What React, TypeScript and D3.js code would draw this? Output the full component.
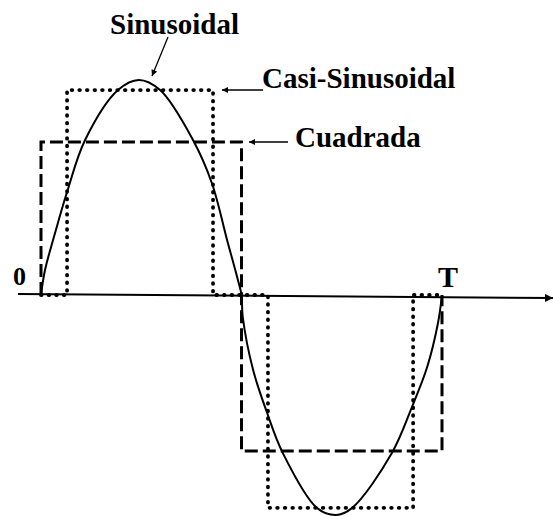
import React from "react";
import * as d3 from "d3";

// Sinusoidal wave samples (t as fraction of period T, v as relative amplitude)
const sineT = [0, 0.01, 0.035, 0.065, 0.11, 0.192, 0.244, 0.297, 0.379, 0.426, 0.464, 0.491, 0.5, 0.503, 0.529, 0.564, 0.603, 0.688, 0.736, 0.776, 0.875, 0.925, 0.963, 0.99, 1];
const sineV = [0, 0.116, 0.288, 0.479, 0.721, 0.953, 1.0, 0.953, 0.721, 0.521, 0.256, 0.07, 0, -0.1, -0.349, -0.549, -0.735, -0.99, -1.023, -0.99, -0.735, -0.521, -0.335, -0.13, 0];

// Square wave (Cuadrada) vertices
const squareT = [0, 0, 0.5, 0.5, 1, 1];
const squareV = [0, 0.712, 0.712, -0.726, -0.726, 0];

// Quasi-sinusoidal wave (Casi-Sinusoidal) vertices
const quasiT = [0, 0.065, 0.065, 0.429, 0.429, 0.5, 0.566, 0.566, 0.928, 0.928, 1];
const quasiV = [0, 0, 0.953, 0.953, 0, 0, 0, -0.99, -0.99, 0, 0];

const labels = ["Sinusoidal", "Casi-Sinusoidal", "Cuadrada"];
const axisLabels = ["0", "T"];

const W = 553;
const H = 516;

export default function App() {
  const x = d3.scaleLinear().domain([0, 1]).range([41, 442]);
  const y = d3.scaleLinear().domain([-1, 1]).range([510, 80]);

  const sinePts: [number, number][] = sineT.map((t, i) => [x(t), y(sineV[i])]);
  const sqPts: [number, number][] = squareT.map((t, i) => [x(t), y(squareV[i])]);
  const qPts: [number, number][] = quasiT.map((t, i) => [x(t), y(quasiV[i])]);

  const sineLine = d3.line().curve(d3.curveCatmullRom.alpha(0.5))(sinePts) || "";
  const stepLine = d3.line()(sqPts) || "";
  const quasiLine = d3.line()(qPts) || "";

  const y0 = y(0);
  const font = "'Liberation Serif', 'Times New Roman', serif";

  return (
    <svg
      width={W}
      height={H}
      viewBox={`0 0 ${W} ${H}`}
      style={{ position: "absolute", left: 0, top: 0, background: "#fff" }}
    >
      <defs>
        <marker id="ah" viewBox="0 0 10 10" refX="10" refY="5" markerWidth="8" markerHeight="6" markerUnits="userSpaceOnUse" orient="auto">
          <path d="M0,0 L10,5 L0,10 z" fill="#000" />
        </marker>
        <marker id="axh" viewBox="0 0 10 10" refX="10" refY="5" markerWidth="10" markerHeight="8" markerUnits="userSpaceOnUse" orient="auto">
          <path d="M0,0 L10,5 L0,10 z" fill="#000" />
        </marker>
      </defs>
      <rect width={W} height={H} fill="#fff" />

      {/* time axis */}
      <line x1={18} y1={y0 - 1} x2={553} y2={y0 + 3} stroke="#000" strokeWidth={2} markerEnd="url(#axh)" />

      {/* quasi-sinusoidal dotted */}
      <path d={quasiLine} fill="none" stroke="#000" strokeWidth={3.8} strokeDasharray="0.6 7" strokeLinecap="round" strokeLinejoin="round" />

      {/* square dashed */}
      <path d={stepLine} fill="none" stroke="#000" strokeWidth={3} strokeDasharray="13 5" strokeLinejoin="miter" />

      {/* sinusoid */}
      <path d={sineLine} fill="none" stroke="#000" strokeWidth={2} />

      {/* annotation arrows */}
      <line x1={168} y1={37} x2={152} y2={76} stroke="#000" strokeWidth={1.3} markerEnd="url(#ah)" />
      <line x1={263} y1={90} x2={222} y2={90} stroke="#000" strokeWidth={1.3} markerEnd="url(#ah)" />
      <line x1={288} y1={142} x2={249} y2={142} stroke="#000" strokeWidth={1.3} markerEnd="url(#ah)" />

      <g fontFamily={font} fontWeight="bold" fill="#000">
        <text x={110} y={34} fontSize={29}>{labels[0]}</text>
        <text x={262} y={88} fontSize={29}>{labels[1]}</text>
        <text x={295} y={147} fontSize={29}>{labels[2]}</text>
        <text x={13} y={285} fontSize={26}>{axisLabels[0]}</text>
        <text x={438} y={287} fontSize={30}>{axisLabels[1]}</text>
      </g>
    </svg>
  );
}
